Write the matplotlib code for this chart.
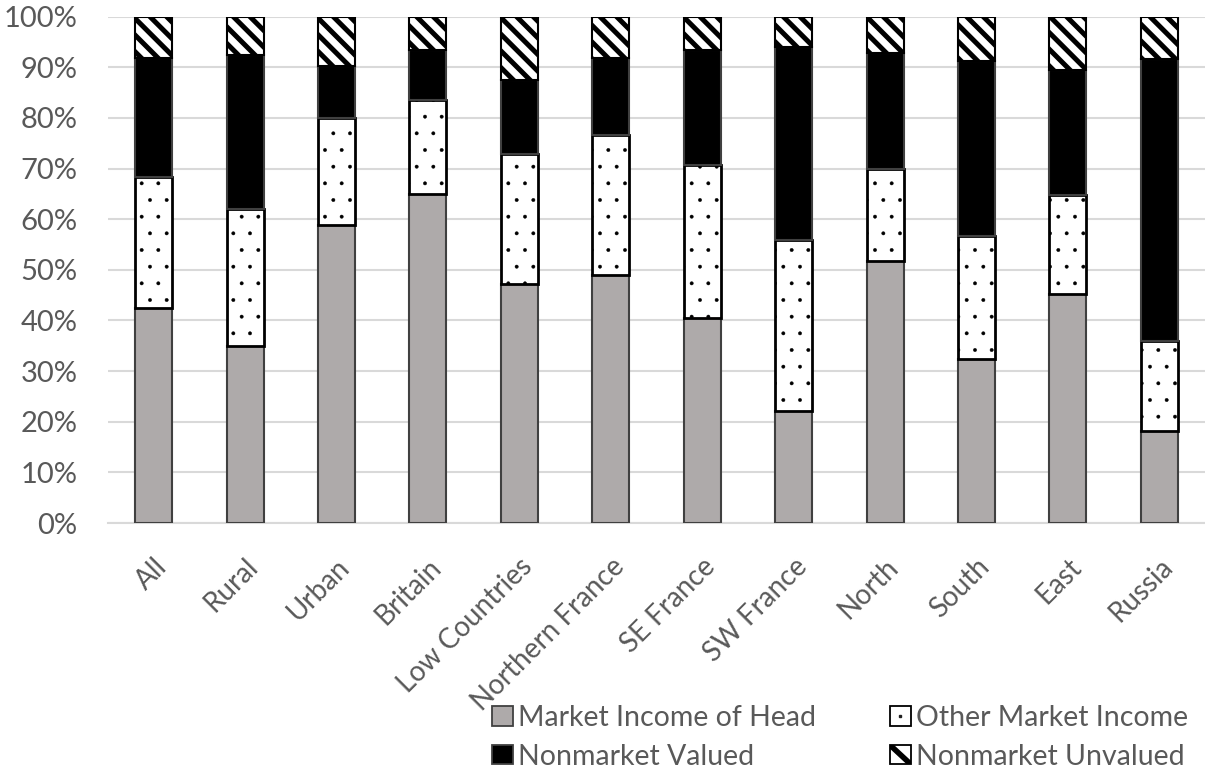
import matplotlib
matplotlib.use("Agg")
import matplotlib.pyplot as plt
from matplotlib.patches import Patch, Rectangle
from matplotlib.lines import Line2D
from matplotlib.legend_handler import HandlerBase
from matplotlib.ticker import PercentFormatter
import numpy as np

categories = ["All", "Rural", "Urban", "Britain", "Low Countries", "Northern France",
              "SE France", "SW France", "North", "South", "East", "Russia"]
market_head = [42.5, 35.0, 58.8, 65.0, 47.2, 48.9, 40.5, 22.1, 51.7, 32.3, 45.2, 18.1]
other_market = [25.8, 27.0, 21.1, 18.5, 25.7, 27.8, 30.3, 33.8, 18.3, 24.4, 19.6, 17.9]
nonmarket_valued = [23.6, 30.5, 10.4, 10.0, 14.6, 15.2, 22.7, 38.1, 22.9, 34.5, 24.7, 55.7]
nonmarket_unvalued = [8.1, 7.5, 9.7, 6.5, 12.5, 8.1, 6.5, 6.0, 7.1, 8.8, 10.5, 8.3]
series_names = ["Market Income of Head", "Other Market Income",
                "Nonmarket Valued", "Nonmarket Unvalued"]

FONT = ["Lato", "DejaVu Sans"]
TXT = "#595959"
plt.rcParams["font.family"] = FONT

W, H = 1205, 782
fig = plt.figure(figsize=(W / 100, H / 100), dpi=100)
left, right, top, bottom = 108 / W, 1.0, 1 - 16.7 / H, 1 - 523 / H
ax = fig.add_axes([left, bottom, right - left, top - bottom])

x = np.arange(len(categories))
w = 0.404
b1 = np.array(market_head)
b2 = b1 + np.array(other_market)
b3 = b2 + np.array(nonmarket_valued)

ax.bar(x, market_head, w, color="#AEAAAA", edgecolor="#404040", linewidth=1.5, zorder=3)
with plt.rc_context({"hatch.linewidth": 0.3}):
    ax.bar(x, other_market, w, bottom=b1, color="white", edgecolor="black",
           linewidth=2.0, hatch=".", zorder=3)
ax.bar(x, nonmarket_valued, w, bottom=b2, color="black", edgecolor="#404040",
       linewidth=1.5, zorder=3)
with plt.rc_context({"hatch.linewidth": 3.6}):
    ax.bar(x, nonmarket_unvalued, w, bottom=b3, color="white", edgecolor="black",
           linewidth=1.5, hatch="\\\\", zorder=3)

ax.set_xlim(-0.5, len(categories) - 0.5)
ax.set_ylim(0, 100)
ax.set_yticks(np.arange(0, 101, 10))
ax.yaxis.set_major_formatter(PercentFormatter(100, decimals=0))
ax.grid(axis="y", color="#D9D9D9", linewidth=1.5, zorder=0)
ax.set_axisbelow(True)
for s in ["top", "right", "left"]:
    ax.spines[s].set_visible(False)
ax.spines["bottom"].set_color("#D9D9D9")
ax.spines["bottom"].set_linewidth(1.5)
ax.tick_params(axis="y", length=0, labelsize=21, labelcolor=TXT, pad=22)
ax.set_xticks(x)
ax.set_xticklabels(categories, rotation=45, ha="right", va="top",
                   rotation_mode="anchor")
ax.tick_params(axis="x", length=0, labelsize=20, labelcolor=TXT, pad=22)


class BoxHandler(HandlerBase):
    """Legend square: plain fill, single centre dot, or one diagonal stripe."""

    def __init__(self, face, edge, kind="plain"):
        super().__init__()
        self.face, self.edge, self.kind = face, edge, kind

    def create_artists(self, legend, orig_handle, xdescent, ydescent,
                       width, height, fontsize, trans):
        x0, y0 = -xdescent, -ydescent
        fill = Rectangle((x0, y0), width, height, facecolor=self.face,
                         edgecolor="none", transform=trans)
        arts = [fill]
        if self.kind == "dot":
            arts.append(Line2D([x0 + width / 2], [y0 + height / 2], marker="s",
                               markersize=1.8, color="#202020", linestyle="none",
                               transform=trans))
        elif self.kind == "diag":
            ln = Line2D([x0, x0 + width], [y0 + height, y0], color="black",
                        linewidth=4.0, solid_capstyle="butt", transform=trans)
            ln.set_clip_path(fill)
            arts.append(ln)
        arts.append(Rectangle((x0, y0), width, height, facecolor="none",
                              edgecolor=self.edge, linewidth=1.3, transform=trans))
        return arts


h_mih = Patch(facecolor="#AEAAAA")
h_nv = Patch(facecolor="black")
h_omi = Patch(facecolor="white")
h_nu = Patch(facecolor="white")
hmap = {h_mih: BoxHandler("#AEAAAA", "#404040"),
        h_nv: BoxHandler("black", "#404040"),
        h_omi: BoxHandler("white", "black", "dot"),
        h_nu: BoxHandler("white", "black", "diag")}

leg_kw = dict(loc="upper left", frameon=False, fontsize=20.5,
              handlelength=0.72, handleheight=0.65, handletextpad=0.2,
              labelspacing=0.44, borderaxespad=0, borderpad=0, handler_map=hmap)
leg1 = fig.legend([h_mih, h_nv], [series_names[0], series_names[2]],
                  bbox_to_anchor=(492 / W, 1 - 705 / H), **leg_kw)
leg2 = fig.legend([h_omi, h_nu], [series_names[1], series_names[3]],
                  bbox_to_anchor=(890 / W, 1 - 705 / H), **leg_kw)
for leg in (leg1, leg2):
    for t in leg.get_texts():
        t.set_color(TXT)

fig.savefig("out.png", dpi=100)
